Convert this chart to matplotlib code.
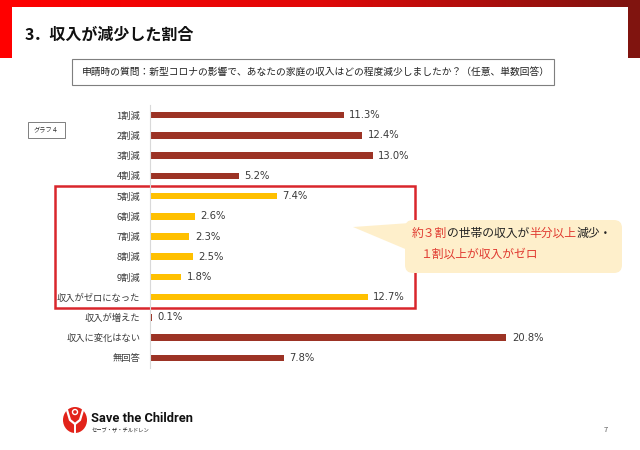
import numpy as np
import matplotlib.pyplot as plt
from matplotlib.patches import Rectangle, FancyBboxPatch, Polygon, Circle, Ellipse
from matplotlib.colors import LinearSegmentedColormap

plt.rcParams['font.family'] = ['Noto Sans CJK JP', 'DejaVu Sans']

# データ
categories = ['1割減', '2割減', '3割減', '4割減', '5割減', '6割減', '7割減', '8割減',
              '9割減', '収入がゼロになった', '収入が増えた', '収入に変化はない', '無回答']
values = [11.3, 12.4, 13.0, 5.2, 7.4, 2.6, 2.3, 2.5, 1.8, 12.7, 0.1, 20.8, 7.8]
highlight = [False, False, False, False, True, True, True, True, True, True, False, False, False]

title = '3．収入が減少した割合'
question = '申請時の質問：新型コロナの影響で、あなたの家庭の収入はどの程度減少しましたか？（任意、単数回答）'
callout1 = [('約３割', 'red'), ('の世帯の収入が', 'black'), ('半分以上', 'red'), ('減少・', 'black')]
callout2 = [('１割以上が収入がゼロ', 'red')]

DARK = '#9C3325'
GOLD = '#FFC000'
RED = '#E03A30'
GRAY = '#3A3A3A'

W, H = 640, 450
fig = plt.figure(figsize=(W / 100, H / 100), dpi=100)

# 背景用の軸 (ピクセル座標)
bg = fig.add_axes([0, 0, 1, 1], zorder=0)
bg.axis('off')

# 上の赤い帯
cmap = LinearSegmentedColormap.from_list('band', ['#FF0000', '#E00808', '#7C1410'])
grad = np.linspace(0, 1, 256).reshape(1, -1)
bg.imshow(grad, cmap=cmap, extent=[0, W, 7.5, 0], aspect='auto')
bg.add_patch(Rectangle((0, 0), 12, 58, color='#FF0000', lw=0))
bg.add_patch(Rectangle((628, 0), 12, 58, color='#80140F', lw=0))
bg.set_xlim(0, W)
bg.set_ylim(H, 0)

bg.text(25, 35, title, fontsize=11.5, fontweight='bold', va='center', ha='left', color='#111111')

bg.add_patch(Rectangle((72, 59), 482, 26, fill=False, ec='#7F7F7F', lw=0.8))
bg.text(82, 72, question, fontsize=7, va='center', ha='left', color='#222222')

bg.add_patch(Rectangle((28, 122), 37, 16, fill=False, ec='#7F7F7F', lw=0.7))
bg.text(46.5, 130, 'グラフ４', fontsize=4.5, va='center', ha='center', color='#333333')

# 強調枠
bg.add_patch(Rectangle((55, 186), 360, 121.5, fill=False, ec='#D9262C', lw=1.8, zorder=2))

# 吹き出し
bg.add_patch(Polygon([(353, 227), (410, 223), (410, 251)], closed=True,
                     fc='#FEEFCB', ec='none', zorder=3))
bg.add_patch(FancyBboxPatch((405, 220), 217, 53, boxstyle='round,pad=0,rounding_size=8',
                            fc='#FEEFCB', ec='none', zorder=3))

renderer = fig.canvas.get_renderer()


def rich_text(x, y, parts, size):
    for txt, col in parts:
        c = RED if col == 'red' else '#222222'
        t = bg.text(x, y, txt, fontsize=size, color=c, va='center', ha='left', zorder=4)
        x += t.get_window_extent(renderer).width


rich_text(412, 233, callout1, 8.5)
rich_text(420, 254, callout2, 8.5)

# ロゴ
bg.add_patch(Ellipse((75, 420), 24, 26, color='#E2231A', lw=0))
bg.plot([67, 70, 75, 80, 83], [410, 420, 424, 420, 410], color='white', lw=1.6, solid_capstyle='round')
bg.add_patch(Circle((75, 412), 3.2, color='white', lw=0))
bg.add_patch(Circle((75, 412), 1.8, color='#E2231A', lw=0))
bg.plot([75, 75], [424, 432], color='white', lw=1.4)
bg.text(91, 418, 'Save the Children', fontsize=9.3, fontweight='bold', family='Roboto',
        va='center', ha='left', color='#111111')
bg.text(92, 431, 'セーブ・ザ・チルドレン', fontsize=3.8, va='center', ha='left', color='#222222')
bg.text(606, 430, '7', fontsize=5.5, va='center', ha='center', color='#555555')

# 棒グラフ
px_per = 17.13
ax_left, ax_top, ax_bottom = 150, 105, 368
ax_w = 25 * px_per
ax = fig.add_axes([ax_left / W, 1 - ax_bottom / H, ax_w / W, (ax_bottom - ax_top) / H], zorder=1)
ax.patch.set_visible(False)

y = np.arange(len(categories))
colors = [GOLD if h else DARK for h in highlight]
ax.barh(y, values, height=0.32, color=colors)
ax.set_xlim(0, 25)
ax.set_ylim(len(categories) - 0.5, -0.5)
ax.set_yticks(y)
ax.set_yticklabels(categories, fontsize=6.7, color=GRAY)
ax.tick_params(axis='y', length=0, pad=7)
ax.set_xticks([])
for s in ['top', 'right', 'bottom']:
    ax.spines[s].set_visible(False)
ax.spines['left'].set_color('#D9D9D9')
ax.spines['left'].set_linewidth(0.8)

for yi, v in zip(y, values):
    ax.annotate(f'{v:.1f}%', (v, yi), xytext=(4, 0), textcoords='offset points',
                va='center', ha='left', fontsize=7.2, family='DejaVu Sans', color=GRAY)

fig.savefig('out.png', dpi=100)
